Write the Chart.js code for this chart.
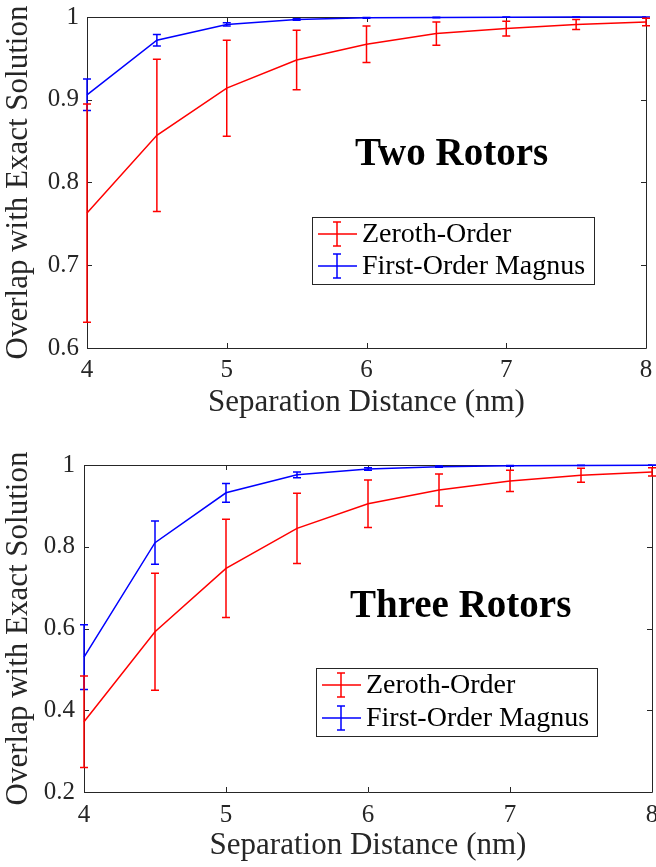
<!DOCTYPE html>
<html><head><meta charset="utf-8">
<script src="https://cdn.jsdelivr.net/npm/chart.js@4"></script>
<style>
html,body{margin:0;padding:0;background:#fff;}
#wrap{position:relative;width:656px;height:867px;overflow:hidden;}
canvas{position:absolute;left:0;}
</style></head><body>
<div id="wrap">
<canvas id="c1" width="656" height="440" style="top:0"></canvas>
<canvas id="c2" width="656" height="427" style="top:440px"></canvas>
</div>
<script>
// ---- data ----
const distances = [4, 4.5, 5, 5.5, 6, 6.5, 7, 7.5, 8];
const xTicks = [4, 5, 6, 7, 8];

const twoZeroth    = [0.763, 0.857, 0.914, 0.948, 0.967, 0.980, 0.986, 0.991, 0.994];
const twoZerothErr = [0.132, 0.092, 0.058, 0.036, 0.022, 0.014, 0.009, 0.006, 0.0045];
const twoMagnus    = [0.906, 0.972, 0.991, 0.997, 0.999, 0.9995, 0.9998, 0.9999, 1.0];
const twoMagnusErr = [0.019, 0.007, 0.002, 0.001, 0.0005, 0.0003, 0.0002, 0.0001, 0.0001];
const twoYTicks = [0.6, 0.7, 0.8, 0.9, 1];

const threeZeroth    = [0.372, 0.592, 0.747, 0.845, 0.905, 0.939, 0.961, 0.975, 0.983];
const threeZerothErr = [0.112, 0.143, 0.120, 0.086, 0.058, 0.039, 0.026, 0.017, 0.010];
const threeMagnus    = [0.530, 0.810, 0.932, 0.976, 0.990, 0.996, 0.998, 0.999, 0.9995];
const threeMagnusErr = [0.079, 0.053, 0.023, 0.007, 0.003, 0.0015, 0.001, 0.0005, 0.0003];
const threeYTicks = [0.2, 0.4, 0.6, 0.8, 1];

const seriesNames = ['Zeroth-Order', 'First-Order Magnus'];
const seriesColors = ['#ff0000', '#0000ff'];

const FONT = "'Liberation Serif', 'Times New Roman', serif";
const AX = '#262626';

function fmt(v) { return Math.abs(v - 1) < 1e-9 ? '1' : v.toFixed(1); }

function makeChart(id, opt) {
  const errs = opt.errs;
  const plugin = {
    id: 'deco_' + id,
    beforeDatasetsDraw(chart) {
      const {ctx, chartArea: a, scales: {x, y}} = chart;
      ctx.save();
      ctx.strokeStyle = AX;
      ctx.lineWidth = 1;
      ctx.beginPath();
      ctx.rect(Math.round(a.left) + 0.5, Math.round(a.top) + 0.5,
               Math.round(a.right - a.left), Math.round(a.bottom - a.top));
      ctx.stroke();
      const tl = 5;
      ctx.beginPath();
      opt.xt.forEach(v => {
        const px = Math.round(x.getPixelForValue(v)) + 0.5;
        ctx.moveTo(px, a.bottom); ctx.lineTo(px, a.bottom - tl);
        ctx.moveTo(px, a.top); ctx.lineTo(px, a.top + tl);
      });
      opt.yt.forEach(v => {
        const py = Math.round(y.getPixelForValue(v)) + 0.5;
        ctx.moveTo(a.left, py); ctx.lineTo(a.left + tl, py);
        ctx.moveTo(a.right, py); ctx.lineTo(a.right - tl, py);
      });
      ctx.stroke();
      ctx.restore();
    },
    afterDatasetDraw(chart, args) {
      const i = args.index;
      const {ctx, scales: {x, y}} = chart;
      const vals = chart.data.datasets[i].data;
      ctx.save();
      ctx.strokeStyle = seriesColors[i];
      ctx.lineWidth = 1.5;
      const cw = 4;
      vals.forEach((p, j) => {
        const e = errs[i][j];
        const px = x.getPixelForValue(p.x);
        const yt = y.getPixelForValue(p.y + e);
        const yb = y.getPixelForValue(p.y - e);
        ctx.beginPath();
        ctx.moveTo(px, yt); ctx.lineTo(px, yb);
        ctx.moveTo(px - cw, yt); ctx.lineTo(px + cw, yt);
        ctx.moveTo(px - cw, yb); ctx.lineTo(px + cw, yb);
        ctx.stroke();
      });
      ctx.restore();
    },
    afterDraw(chart) {
      const {ctx} = chart;
      ctx.save();
      // annotation title
      ctx.fillStyle = '#000';
      ctx.font = 'bold 39px ' + FONT;
      ctx.textBaseline = 'alphabetic';
      ctx.textAlign = 'left';
      ctx.fillText(opt.title, opt.titleX, opt.titleY);
      // legend
      const L = opt.legend;
      ctx.fillStyle = '#fff';
      ctx.fillRect(L.x, L.y, L.w, L.h);
      ctx.strokeStyle = AX;
      ctx.lineWidth = 1;
      ctx.strokeRect(L.x + 0.5, L.y + 0.5, L.w, L.h);
      ctx.font = '28px ' + FONT;
      ctx.textBaseline = 'middle';
      seriesNames.forEach((n, k) => {
        const cy = L.y + L.rows[k];
        ctx.strokeStyle = seriesColors[k];
        ctx.lineWidth = 1.5;
        ctx.beginPath();
        ctx.moveTo(L.x + 6, cy); ctx.lineTo(L.x + 45, cy);
        const cx = L.x + 25;
        ctx.moveTo(cx, cy - 12); ctx.lineTo(cx, cy + 12);
        ctx.moveTo(cx - 4, cy - 12); ctx.lineTo(cx + 4, cy - 12);
        ctx.moveTo(cx - 4, cy + 12); ctx.lineTo(cx + 4, cy + 12);
        ctx.stroke();
        ctx.fillStyle = '#000';
        ctx.fillText(n, L.x + 50, cy + 1);
      });
      ctx.restore();
    }
  };

  return new Chart(document.getElementById(id), {
    type: 'line',
    data: {
      datasets: opt.series.map((s, k) => ({
        label: seriesNames[k],
        data: distances.map((d, j) => ({x: d, y: s[j]})),
        borderColor: seriesColors[k],
        borderWidth: 1.5,
        pointRadius: 0,
        fill: false,
        tension: 0,
        clip: false
      }))
    },
    options: {
      responsive: false,
      animation: false,
      events: [],
      layout: {padding: {left: 0, top: opt.padTop, right: opt.padRight, bottom: 0}},
      plugins: {legend: {display: false}, tooltip: {enabled: false}},
      scales: {
        x: {
          type: 'linear', min: 4, max: 8,
          grid: {display: false, drawTicks: false}, border: {display: false},
          afterBuildTicks: s => { s.ticks = xTicks.map(v => ({value: v})); },
          ticks: {padding: opt.xTickPad, color: AX, font: {family: FONT, size: 25}, maxRotation: 0,
                  callback: v => String(v)},
          title: {display: true, text: 'Separation Distance (nm)', color: AX,
                  font: {family: FONT, size: 31}, padding: {top: 0, bottom: opt.xTitlePad}},
          afterFit: s => { s.height = opt.xAxisH; s.paddingLeft = 0; s.paddingRight = 0; }
        },
        y: {
          type: 'linear', min: opt.yMin, max: 1,
          grid: {display: false, drawTicks: false}, border: {display: false},
          afterBuildTicks: s => { s.ticks = opt.yt.map(v => ({value: v})); },
          ticks: {padding: opt.yTickPad, color: AX, font: {family: FONT, size: 25}, callback: v => fmt(v)},
          title: {display: true, text: 'Overlap with Exact Solution', color: AX,
                  font: {family: FONT, size: 31}, padding: {top: 0, bottom: 0}},
          afterFit: s => { s.width = opt.yAxisW; s.paddingTop = 0; s.paddingBottom = 0; }
        }
      }
    },
    plugins: [plugin]
  });
}

makeChart('c1', {
  series: [twoZeroth, twoMagnus], errs: [twoZerothErr, twoMagnusErr],
  xt: xTicks, yt: twoYTicks, yMin: 0.6,
  padTop: 17, padRight: 10, xAxisH: 92, yAxisW: 87,
  xTickPad: 7, yTickPad: 8, xTitlePad: 19,
  title: 'Two Rotors', titleX: 355, titleY: 165,
  legend: {x: 312, y: 217, w: 282, h: 67, rows: [17, 49]}
});

makeChart('c2', {
  series: [threeZeroth, threeMagnus], errs: [threeZerothErr, threeMagnusErr],
  xt: xTicks, yt: threeYTicks, yMin: 0.2,
  padTop: 25, padRight: 4, xAxisH: 75, yAxisW: 84,
  xTickPad: 8, yTickPad: 9, xTitlePad: 3,
  title: 'Three Rotors', titleX: 350, titleY: 177,
  legend: {x: 316, y: 228, w: 281, h: 68, rows: [17, 50]}
});
</script>
</body></html>
